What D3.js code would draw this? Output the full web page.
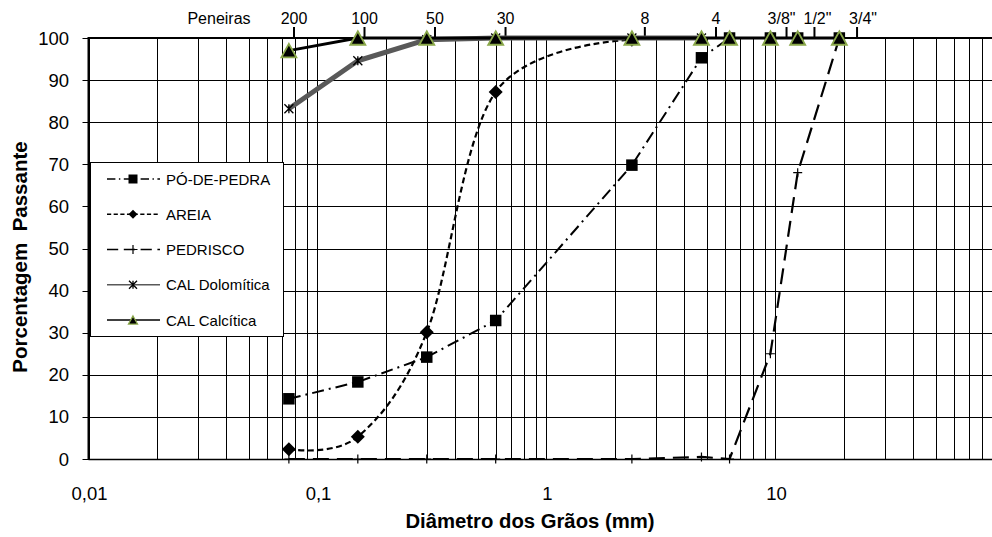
<!DOCTYPE html>
<html>
<head>
<meta charset="utf-8">
<script src="https://cdn.jsdelivr.net/npm/d3@7/dist/d3.min.js"></script>
<style>
  html, body { margin: 0; padding: 0; background: #fff; }
  svg { display: block; font-family: "Liberation Sans", Arial, sans-serif; }
  text { white-space: pre; }
</style>
</head>
<body>
<svg id="chart" width="992" height="537"></svg>
<script>
// Sieve openings (mm) used by the grading curves
const sieveSizes = [0.075, 0.15, 0.3, 0.6, 2.36, 4.75, 6.3, 9.5, 12.5, 19];

// Sieve names shown along the top axis
const sieveLabels = ["200", "100", "50", "30", "8", "4", "3/8\"", "1/2\"", "3/4\""];
const sieveLabelSizes = [0.075, 0.15, 0.3, 0.6, 2.36, 4.75, 9.5, 12.5, 19];

// Percent passing for each material
const poDePedra     = [14.3, 18.3, 24.2, 32.9, 69.8, 95.3, 100, 100, 100, 100];
const areia         = [2.3, 5.3, 30.1, 87.2, 99.6];
const pedrisco      = [0, 0, 0, 0, 0, 0.5, 0, 25, 68, 100];
const calDolomitica = [83.2, 94.6, 99.6, 100, 100, 100];
const calCalcitica  = [97, 100, 100, 100, 100, 100, 100, 100, 100, 100];

// Axis ticks
const xTickValues = [0.01, 0.1, 1, 10];
const xTickLabels = ["0,01", "0,1", "1", "10"];
const yTickValues = [0, 10, 20, 30, 40, 50, 60, 70, 80, 90, 100];

const svg = d3.select("#chart");

const x = d3.scaleLog().domain([0.01, 100]).range([88.5, 1004.5]);
const xTop = d3.scaleLog().domain([0.01, 100]).range([89, 1026]);
const y = d3.scaleLinear().domain([0, 100]).range([459, 38]);

const plotLeft = x(0.01), plotRight = x(100), plotTop = y(100), plotBottom = y(0);

// ---- grid ----
const grid = svg.append("g").attr("stroke", "#000").attr("stroke-width", 1);
const minorX = [];
for (let e = -2; e < 2; e++) for (let k = 1; k <= 9; k++) minorX.push(k * Math.pow(10, e));
grid.selectAll("line.vx").data(minorX).join("line")
  .attr("x1", d => Math.round(x(d)) + 0.5).attr("x2", d => Math.round(x(d)) + 0.5)
  .attr("y1", plotTop).attr("y2", plotBottom);
grid.selectAll("line.hy").data(yTickValues).join("line")
  .attr("x1", plotLeft - 6).attr("x2", plotRight)
  .attr("y1", d => Math.round(y(d)) + 0.5).attr("y2", d => Math.round(y(d)) + 0.5);

// ---- frame ----
svg.append("line").attr("x1", plotLeft).attr("x2", plotLeft).attr("y1", plotTop - 1).attr("y2", plotBottom + 1)
  .attr("stroke", "#000").attr("stroke-width", 2);
svg.append("line").attr("x1", plotLeft).attr("x2", plotRight).attr("y1", plotTop).attr("y2", plotTop)
  .attr("stroke", "#000").attr("stroke-width", 2);
svg.append("line").attr("x1", plotLeft).attr("x2", plotRight).attr("y1", plotBottom + 0.5).attr("y2", plotBottom + 0.5)
  .attr("stroke", "#000").attr("stroke-width", 1.5);

// ---- left axis labels ----
svg.append("g").selectAll("text").data(yTickValues).join("text")
  .attr("x", 69).attr("y", d => y(d) + 6.5)
  .attr("text-anchor", "end").attr("font-size", 18.5).attr("fill", "#000")
  .text(d => d);

// ---- bottom axis labels ----
svg.append("g").selectAll("text").data(xTickValues).join("text")
  .attr("x", d => x(d) + 1).attr("y", 500)
  .attr("text-anchor", "middle").attr("font-size", 18.5).attr("fill", "#000")
  .text((d, i) => xTickLabels[i]);

// ---- top (sieve) axis ----
const labelShift = { "3/8\"": -5, "1/2\"": 3, "3/4\"": 6 };
const topAxis = svg.append("g");
topAxis.selectAll("line").data(sieveLabelSizes).join("line")
  .attr("x1", d => xTop(d)).attr("x2", d => xTop(d))
  .attr("y1", 27).attr("y2", plotTop)
  .attr("stroke", "#000").attr("stroke-width", 2);
topAxis.selectAll("text").data(sieveLabelSizes).join("text")
  .attr("x", (d, i) => xTop(d) + (labelShift[sieveLabels[i]] || 0)).attr("y", 24)
  .attr("text-anchor", "middle").attr("font-size", 16).attr("fill", "#000")
  .text((d, i) => sieveLabels[i]);
svg.append("text").attr("x", 219).attr("y", 24).attr("text-anchor", "middle")
  .attr("font-size", 16).text("Peneiras");

// ---- axis titles ----
svg.append("text").attr("x", 530).attr("y", 528).attr("text-anchor", "middle")
  .attr("font-size", 20.3).attr("font-weight", "bold").text("Diâmetro dos Grãos (mm)");
svg.append("text").attr("transform", "translate(27,257) rotate(-90)").attr("text-anchor", "middle")
  .attr("font-size", 20.5).attr("font-weight", "bold").text("Porcentagem  Passante");

// ---- marker shapes ----
const markers = {
  square: s => `M${-s/2},${-s/2}h${s}v${s}h${-s}Z`,
  diamond: s => `M0,${-s/2}L${s/2},0L0,${s/2}L${-s/2},0Z`,
  triangle: s => `M0,${-s*0.45}L${s/2},${s*0.45}L${-s/2},${s*0.45}Z`,
  plus: s => `M${-s/2},0H${s/2}M0,${-s/2}V${s/2}`,
  star: s => `M${-s/2},${-s/2}L${s/2},${s/2}M${s/2},${-s/2}L${-s/2},${s/2}M0,${-s/2}V${s/2}`
};

const series = [
  { name: "PÓ-DE-PEDRA", values: poDePedra, color: "#000", width: 2, dash: "12,5,2,5",
    curve: d3.curveLinear, marker: "square", size: 11.5, fill: "#000", stroke: "none", mstroke: 0, lsize: 9 },
  { name: "AREIA", values: areia, color: "#000", width: 2.2, dash: "6,3.5",
    curve: d3.curveCardinal.tension(0), marker: "diamond", size: 14, fill: "#000", stroke: "none", mstroke: 0, lsize: 9 },
  { name: "PEDRISCO", values: pedrisco, color: "#000", width: 2.2, dash: "16,8",
    curve: d3.curveLinear, marker: "plus", size: 9, fill: "none", stroke: "#000", mstroke: 1.2, lsize: 9 },
  { name: "CAL Dolomítica", values: calDolomitica, color: "#595959", width: 5, dash: null,
    curve: d3.curveLinear, marker: "star", size: 9, fill: "none", stroke: "#000", mstroke: 1.3, lsize: 8, lwidth: 1.5 },
  { name: "CAL Calcítica", values: calCalcitica, color: "#000", width: 3, dash: null,
    curve: d3.curveLinear, marker: "triangle", size: 15, fill: "#000", stroke: "#8aa84a", mstroke: 1.8, lsize: 9, lwidth: 1.3 }
];

// ---- lines ----
const plot = svg.append("g");
series.forEach(s => {
  const pts = s.values.map((v, i) => [sieveSizes[i], v]);
  const line = d3.line().x(d => x(d[0])).y(d => y(d[1])).curve(s.curve);
  plot.append("path").attr("d", line(pts)).attr("fill", "none")
    .attr("stroke", s.color).attr("stroke-width", s.width)
    .attr("stroke-dasharray", s.dash)
    .attr("stroke-linejoin", "round");
});
// ---- markers (drawn after all lines) ----
series.forEach(s => {
  const pts = s.values.map((v, i) => [sieveSizes[i], v]);
  plot.append("g").selectAll("path").data(pts).join("path")
    .attr("transform", d => `translate(${x(d[0])},${y(d[1])})`)
    .attr("d", markers[s.marker](s.size))
    .attr("fill", s.fill).attr("stroke", s.stroke).attr("stroke-width", s.mstroke);
});

// ---- legend ----
const legend = svg.append("g");
legend.append("rect").attr("x", 90.5).attr("y", 162.5).attr("width", 193).attr("height", 174)
  .attr("fill", "#fff").attr("stroke", "#000").attr("stroke-width", 1);
const rowY = d3.scalePoint().domain(series.map(s => s.name)).range([179, 320]);
series.forEach(s => {
  const yy = rowY(s.name);
  legend.append("line").attr("x1", 107).attr("x2", 160).attr("y1", yy).attr("y2", yy)
    .attr("stroke", s.color).attr("stroke-width", s.lwidth || 1.6)
    .attr("stroke-dasharray", s.dash ? s.dash.split(",").map(v => v * 0.7).join(",") : null);
  legend.append("path").attr("transform", `translate(133,${yy})`)
    .attr("d", markers[s.marker](s.lsize))
    .attr("fill", s.fill).attr("stroke", s.stroke).attr("stroke-width", s.mstroke ? Math.min(s.mstroke, 1.3) : 0);
  legend.append("text").attr("x", 166).attr("y", yy + 5.5).attr("font-size", 15).text(s.name);
});
</script>
</body>
</html>
